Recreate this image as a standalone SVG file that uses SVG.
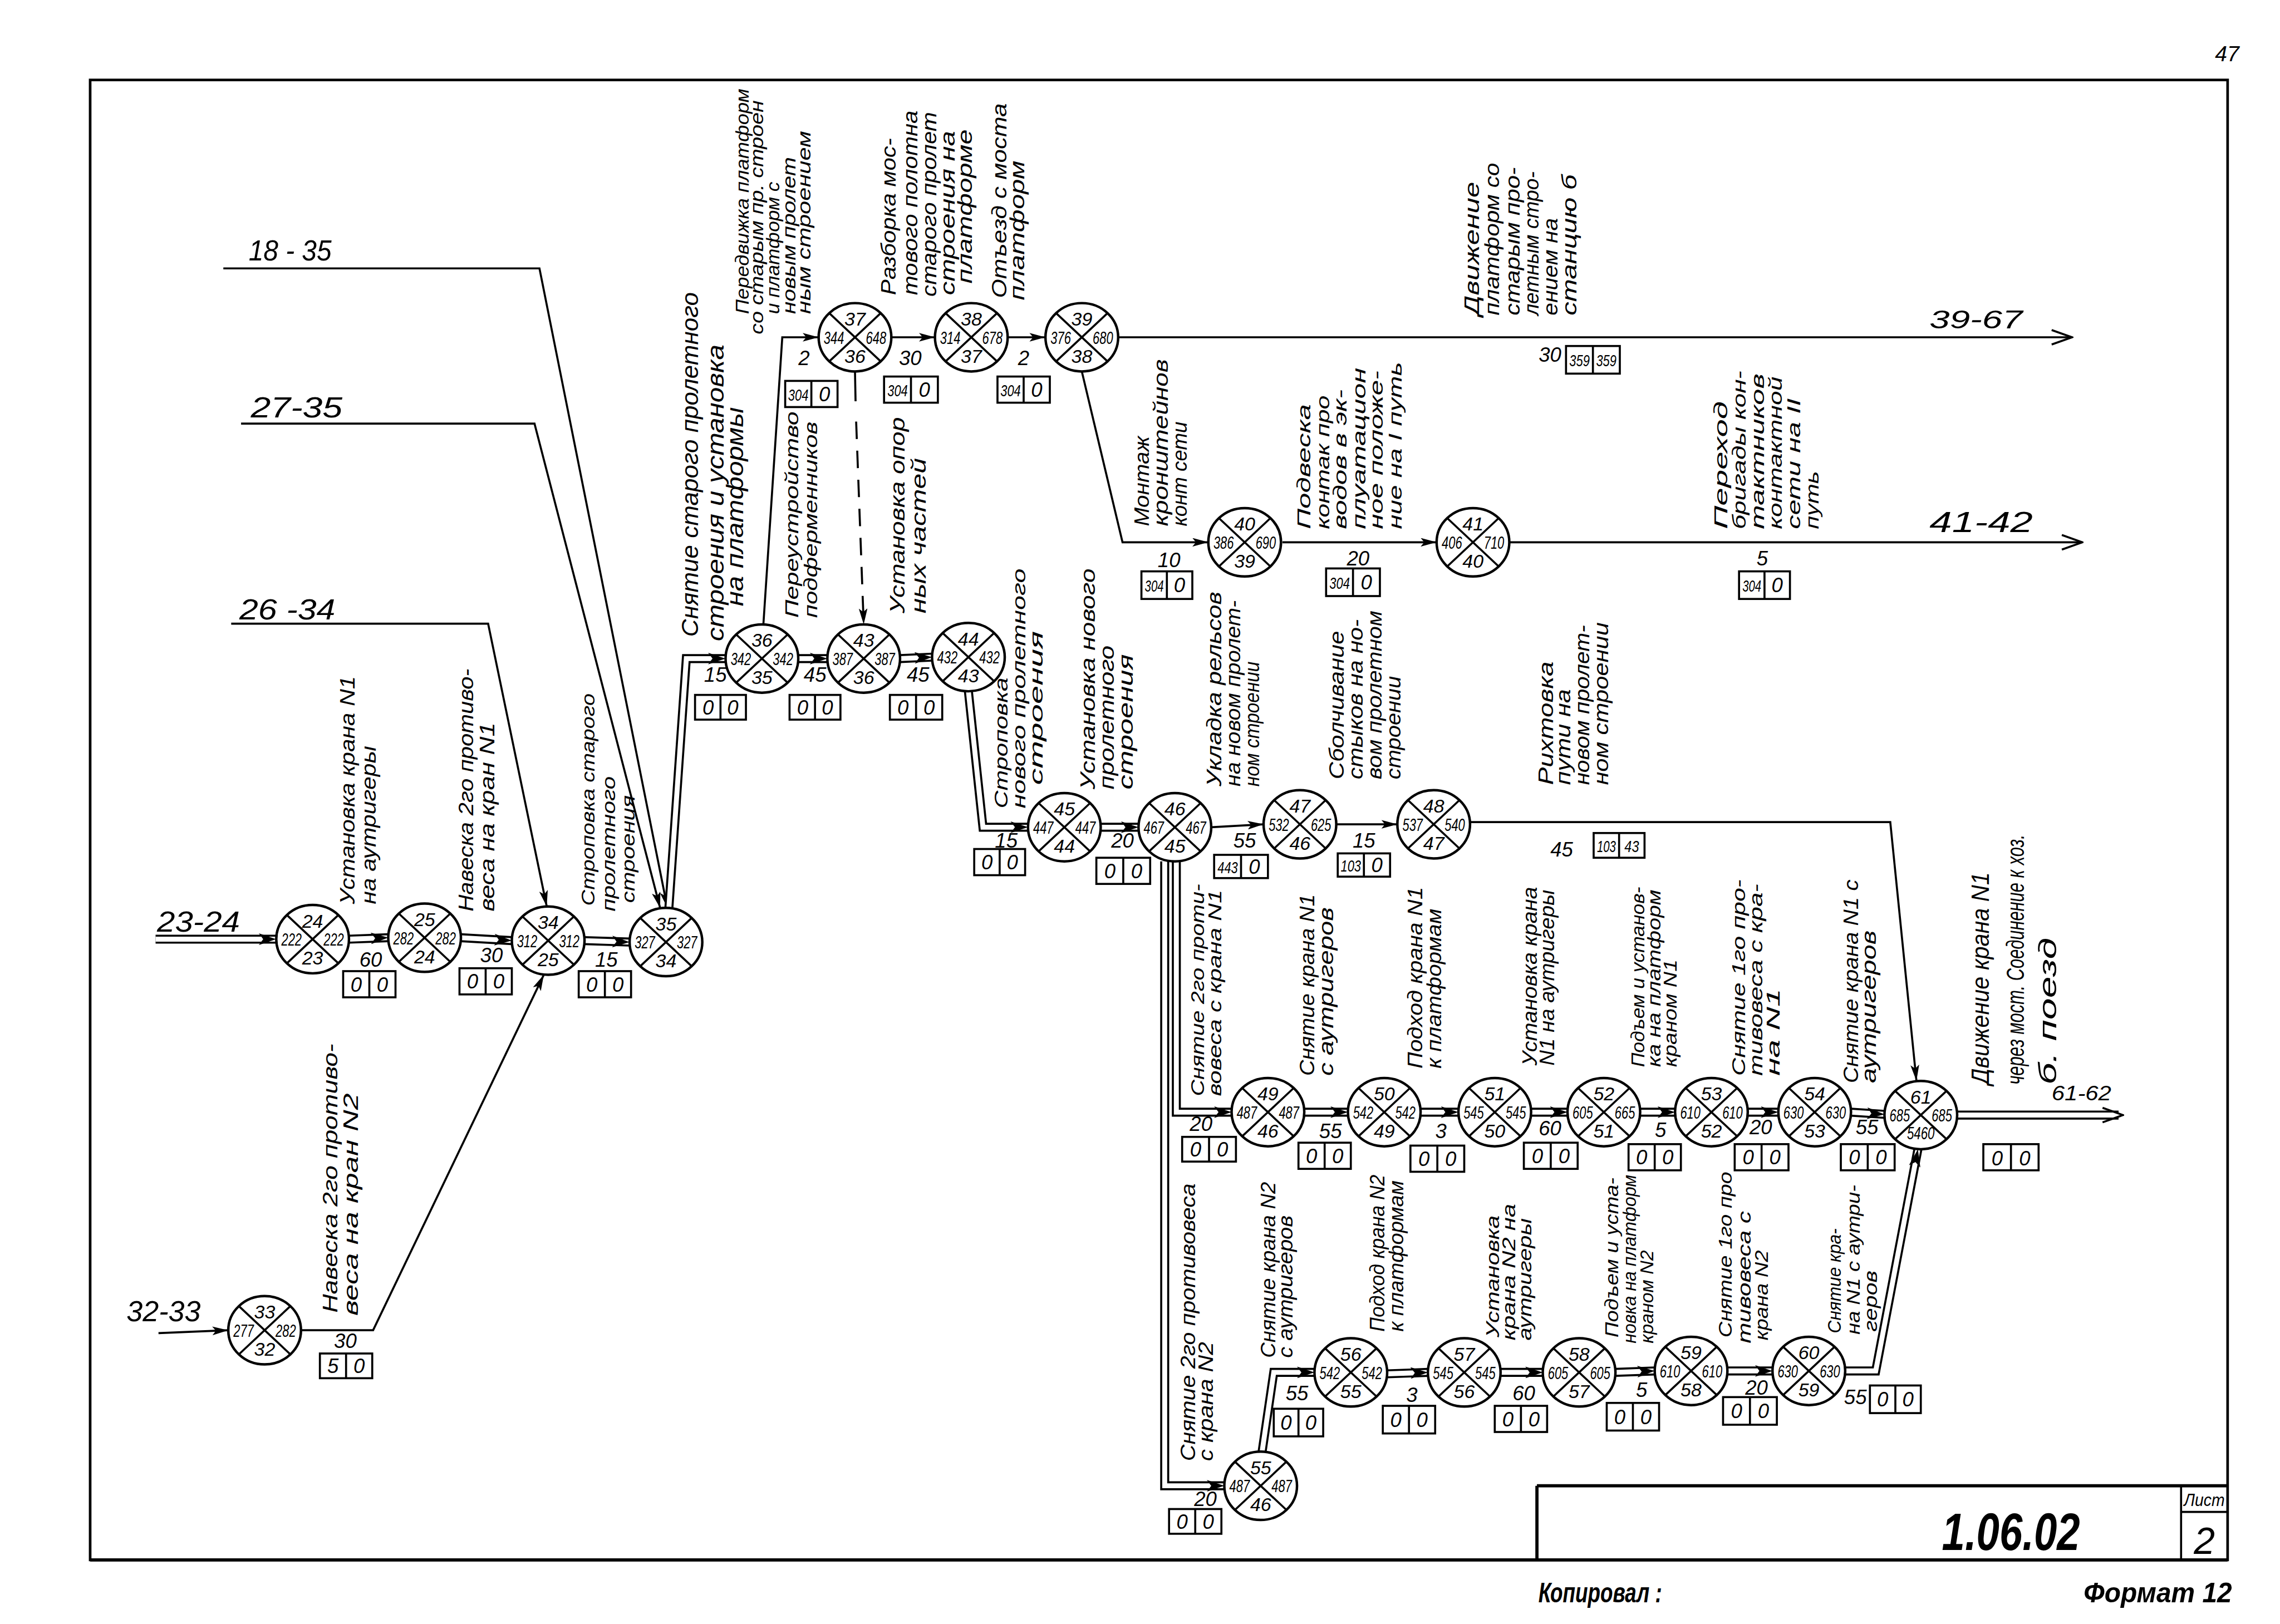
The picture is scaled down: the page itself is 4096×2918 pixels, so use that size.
<svg xmlns="http://www.w3.org/2000/svg" width="4096" height="2918" viewBox="0 0 4096 2918">
<defs>
<style>
text{font-family:"Liberation Sans","DejaVu Sans",sans-serif;font-style:italic;fill:#000}
.nt{font-size:13px;text-anchor:middle}
.ns{font-size:12px;text-anchor:middle}
.ln{fill:none;stroke:#000;stroke-width:1.4}
.db{fill:none;stroke:#000;stroke-width:6.2}
.dw{fill:none;stroke:#fff;stroke-width:3.4}
.ma{fill:none;stroke:none;marker-end:url(#b)}
.mo{fill:none;stroke:none;marker-end:url(#o)}
.dash{fill:none;stroke:#000;stroke-width:1.4;stroke-dasharray:12 8}
.el{font-size:14px;text-anchor:middle}
.bx rect,.bx path{fill:none;stroke:#000;stroke-width:1.4}
.bx text{font-size:14px;text-anchor:middle}
.bx .s{font-size:11px}
.io{font-size:20px}
.rl text{font-size:14px}
.r13 text{font-size:13px}
.r16 text{font-size:16px}
.r17 text{font-size:17px}
</style>
<marker id="a" viewBox="0 0 11 6" refX="11" refY="3" markerWidth="11" markerHeight="6" markerUnits="userSpaceOnUse" orient="auto"><path d="M0,0L11,3L0,6L2.5,3z" fill="#000"/></marker>
<marker id="b" viewBox="0 0 12 8" refX="12" refY="4" markerWidth="12" markerHeight="8" markerUnits="userSpaceOnUse" orient="auto"><path d="M0,0L12,4L0,8L3,4z" fill="#000"/></marker>
<marker id="o" viewBox="-1 -1 16 12" refX="14" refY="5" markerWidth="16" markerHeight="12" markerUnits="userSpaceOnUse" orient="auto"><path d="M0,0L14,5L0,10" fill="none" stroke="#000" stroke-width="1.4"/></marker>
<g id="ring"><ellipse rx="25" ry="23.5" fill="#fff" stroke="#000" stroke-width="1.7"/><path d="M-17.7,-16.6L17.7,16.6M17.7,-16.6L-17.7,16.6" stroke="#000" stroke-width="1.4" fill="none"/></g>
</defs>
<rect width="4096" height="2918" fill="#fff"/>
<g transform="scale(2.6122)">
<g id="frame">
<rect x="62" y="55" width="1470" height="1018" fill="none" stroke="#000" stroke-width="1.8"/>
<path d="M1057,1022H1532M1057,1022V1073M62,1073H1532" fill="none" stroke="#000" stroke-width="2.2"/>
<path d="M1500,1022V1073M1500,1040H1532" fill="none" stroke="#000" stroke-width="1.4"/>
<text x="1540" y="42" font-size="15" text-anchor="end">47</text>
<text x="1383" y="1066" font-size="36" font-weight="bold" text-anchor="middle" textLength="95" lengthAdjust="spacingAndGlyphs">1.06.02</text>
<text x="1516" y="1036" font-size="12" text-anchor="middle" textLength="28" lengthAdjust="spacingAndGlyphs">Лист</text>
<text x="1516" y="1069" font-size="26" text-anchor="middle">2</text>
<text x="1058" y="1102" font-size="19" font-weight="bold" textLength="85" lengthAdjust="spacingAndGlyphs">Копировал :</text>
<text x="1535" y="1102" font-size="19" font-weight="bold" text-anchor="end" textLength="102" lengthAdjust="spacingAndGlyphs">Формат 12</text>
</g>
<g id="connectors">
<path class="ln" marker-end="url(#a)" d="M109,917L157,915"/>
<path class="ln" marker-end="url(#a)" d="M207.5,915H256.6L374,670.5"/>
<path class="ln" marker-end="url(#a)" d="M159,429H335.7L376,623.5"/>
<path class="ln" marker-end="url(#a)" d="M165.8,291.4H367.6L454,624.6"/>
<path class="ln" marker-end="url(#a)" d="M153.6,184.6H371L459,624.5"/>
<path class="ln" marker-end="url(#a)" d="M525,429.5L538,232H563"/>
<path class="ln" marker-end="url(#a)" d="M613,232H643"/>
<path class="ln" marker-end="url(#a)" d="M693,232H719"/>
<path class="ln" d="M588,255.5L588.4,276"/>
<path class="dash" marker-end="url(#a)" d="M588.8,290L594,429.5"/>
<path class="ln" marker-end="url(#a)" d="M744,255.5L772,373H831"/>
<path class="ln" marker-end="url(#a)" d="M882,373H988"/>
<path class="ln" marker-end="url(#o)" d="M1038,373H1432"/>
<path class="ln" marker-end="url(#o)" d="M769,232H1425"/>
<path class="ln" marker-end="url(#a)" d="M833,569L869,567"/>
<path class="ln" marker-end="url(#a)" d="M919,567H961"/>
<path class="ln" marker-end="url(#a)" d="M1011,565.5H1300L1318,743.5"/>
<g id="double-black">
<path class="db" d="M107,646H190"/>
<path class="db" d="M240,646L267,645"/>
<path class="db" d="M317,645L352,647"/>
<path class="db" d="M402,647L433,648"/>
<path class="db" d="M460,624.6L472,453H499"/>
<path class="db" d="M549,453H569"/>
<path class="db" d="M619,453L641,452"/>
<path class="db" d="M666,475.5L676,569H707"/>
<path class="db" d="M757,569H783"/>
<path class="db" d="M801,592.5V1022H842"/>
<path class="db" d="M809,592.5V765H847"/>
<path class="db" d="M897,765H927"/>
<path class="db" d="M977,765H1003"/>
<path class="db" d="M1053,765H1078"/>
<path class="db" d="M1128,765H1152"/>
<path class="db" d="M1202,765H1223"/>
<path class="db" d="M1273,765L1296,766.5"/>
<path class="db" d="M1346,767H1457"/>
<path class="db" d="M868,998.5L876,944H904"/>
<path class="db" d="M954,945L982,944"/>
<path class="db" d="M1032,944H1061"/>
<path class="db" d="M1111,944L1138,943"/>
<path class="db" d="M1188,943H1219"/>
<path class="db" d="M1269,943H1290L1319,790.5"/>
</g>
<g id="double-white">
<path class="dw" d="M107,646H190"/>
<path class="dw" d="M240,646L267,645"/>
<path class="dw" d="M317,645L352,647"/>
<path class="dw" d="M402,647L433,648"/>
<path class="dw" d="M460,624.6L472,453H499"/>
<path class="dw" d="M549,453H569"/>
<path class="dw" d="M619,453L641,452"/>
<path class="dw" d="M666,475.5L676,569H707"/>
<path class="dw" d="M757,569H783"/>
<path class="dw" d="M801,592.5V1022H842"/>
<path class="dw" d="M809,592.5V765H847"/>
<path class="dw" d="M897,765H927"/>
<path class="dw" d="M977,765H1003"/>
<path class="dw" d="M1053,765H1078"/>
<path class="dw" d="M1128,765H1152"/>
<path class="dw" d="M1202,765H1223"/>
<path class="dw" d="M1273,765L1296,766.5"/>
<path class="dw" d="M1346,767H1457"/>
<path class="dw" d="M868,998.5L876,944H904"/>
<path class="dw" d="M954,945L982,944"/>
<path class="dw" d="M1032,944H1061"/>
<path class="dw" d="M1111,944L1138,943"/>
<path class="dw" d="M1188,943H1219"/>
<path class="dw" d="M1269,943H1290L1319,790.5"/>
</g>
<g id="double-heads">
<path class="ma" d="M107,646H190"/>
<path class="ma" d="M240,646L267,645"/>
<path class="ma" d="M317,645L352,647"/>
<path class="ma" d="M402,647L433,648"/>
<path class="ma" d="M472,453H499"/>
<path class="ma" d="M549,453H569"/>
<path class="ma" d="M619,453L641,452"/>
<path class="ma" d="M676,569H707"/>
<path class="ma" d="M757,569H783"/>
<path class="ma" d="M801,1022H842"/>
<path class="ma" d="M809,765H847"/>
<path class="ma" d="M897,765H927"/>
<path class="ma" d="M977,765H1003"/>
<path class="ma" d="M1053,765H1078"/>
<path class="ma" d="M1128,765H1152"/>
<path class="ma" d="M1202,765H1223"/>
<path class="ma" d="M1273,765L1296,766.5"/>
<path class="mo" d="M1346,767H1460"/>
<path class="ma" d="M876,944H904"/>
<path class="ma" d="M954,945L982,944"/>
<path class="ma" d="M1032,944H1061"/>
<path class="ma" d="M1111,944L1138,943"/>
<path class="ma" d="M1188,943H1219"/>
<path class="ma" d="M1290,943L1319,790.5"/>
</g>
</g>
<g id="nodes">
<g id="n24" transform="translate(215,646)"><use href="#ring"/><text class="nt" y="-8">24</text><text class="nt" y="17.5">23</text><text class="ns" x="-14.5" y="4.5" textLength="14" lengthAdjust="spacingAndGlyphs">222</text><text class="ns" x="14.5" y="4.5" textLength="14" lengthAdjust="spacingAndGlyphs">222</text></g>
<g id="n25" transform="translate(292,645)"><use href="#ring"/><text class="nt" y="-8">25</text><text class="nt" y="17.5">24</text><text class="ns" x="-14.5" y="4.5" textLength="14" lengthAdjust="spacingAndGlyphs">282</text><text class="ns" x="14.5" y="4.5" textLength="14" lengthAdjust="spacingAndGlyphs">282</text></g>
<g id="n34" transform="translate(377,647)"><use href="#ring"/><text class="nt" y="-8">34</text><text class="nt" y="17.5">25</text><text class="ns" x="-14.5" y="4.5" textLength="14" lengthAdjust="spacingAndGlyphs">312</text><text class="ns" x="14.5" y="4.5" textLength="14" lengthAdjust="spacingAndGlyphs">312</text></g>
<g id="n35" transform="translate(458,648)"><use href="#ring"/><text class="nt" y="-8">35</text><text class="nt" y="17.5">34</text><text class="ns" x="-14.5" y="4.5" textLength="14" lengthAdjust="spacingAndGlyphs">327</text><text class="ns" x="14.5" y="4.5" textLength="14" lengthAdjust="spacingAndGlyphs">327</text></g>
<g id="n33" transform="translate(182,915)"><use href="#ring"/><text class="nt" y="-8">33</text><text class="nt" y="17.5">32</text><text class="ns" x="-14.5" y="4.5" textLength="14" lengthAdjust="spacingAndGlyphs">277</text><text class="ns" x="14.5" y="4.5" textLength="14" lengthAdjust="spacingAndGlyphs">282</text></g>
<g id="n36" transform="translate(524,453)"><use href="#ring"/><text class="nt" y="-8">36</text><text class="nt" y="17.5">35</text><text class="ns" x="-14.5" y="4.5" textLength="14" lengthAdjust="spacingAndGlyphs">342</text><text class="ns" x="14.5" y="4.5" textLength="14" lengthAdjust="spacingAndGlyphs">342</text></g>
<g id="n43" transform="translate(594,453)"><use href="#ring"/><text class="nt" y="-8">43</text><text class="nt" y="17.5">36</text><text class="ns" x="-14.5" y="4.5" textLength="14" lengthAdjust="spacingAndGlyphs">387</text><text class="ns" x="14.5" y="4.5" textLength="14" lengthAdjust="spacingAndGlyphs">387</text></g>
<g id="n44" transform="translate(666,452)"><use href="#ring"/><text class="nt" y="-8">44</text><text class="nt" y="17.5">43</text><text class="ns" x="-14.5" y="4.5" textLength="14" lengthAdjust="spacingAndGlyphs">432</text><text class="ns" x="14.5" y="4.5" textLength="14" lengthAdjust="spacingAndGlyphs">432</text></g>
<g id="n37" transform="translate(588,232)"><use href="#ring"/><text class="nt" y="-8">37</text><text class="nt" y="17.5">36</text><text class="ns" x="-14.5" y="4.5" textLength="14" lengthAdjust="spacingAndGlyphs">344</text><text class="ns" x="14.5" y="4.5" textLength="14" lengthAdjust="spacingAndGlyphs">648</text></g>
<g id="n38" transform="translate(668,232)"><use href="#ring"/><text class="nt" y="-8">38</text><text class="nt" y="17.5">37</text><text class="ns" x="-14.5" y="4.5" textLength="14" lengthAdjust="spacingAndGlyphs">314</text><text class="ns" x="14.5" y="4.5" textLength="14" lengthAdjust="spacingAndGlyphs">678</text></g>
<g id="n39" transform="translate(744,232)"><use href="#ring"/><text class="nt" y="-8">39</text><text class="nt" y="17.5">38</text><text class="ns" x="-14.5" y="4.5" textLength="14" lengthAdjust="spacingAndGlyphs">376</text><text class="ns" x="14.5" y="4.5" textLength="14" lengthAdjust="spacingAndGlyphs">680</text></g>
<g id="n40" transform="translate(856,373)"><use href="#ring"/><text class="nt" y="-8">40</text><text class="nt" y="17.5">39</text><text class="ns" x="-14.5" y="4.5" textLength="14" lengthAdjust="spacingAndGlyphs">386</text><text class="ns" x="14.5" y="4.5" textLength="14" lengthAdjust="spacingAndGlyphs">690</text></g>
<g id="n41" transform="translate(1013,373)"><use href="#ring"/><text class="nt" y="-8">41</text><text class="nt" y="17.5">40</text><text class="ns" x="-14.5" y="4.5" textLength="14" lengthAdjust="spacingAndGlyphs">406</text><text class="ns" x="14.5" y="4.5" textLength="14" lengthAdjust="spacingAndGlyphs">710</text></g>
<g id="n45" transform="translate(732,569)"><use href="#ring"/><text class="nt" y="-8">45</text><text class="nt" y="17.5">44</text><text class="ns" x="-14.5" y="4.5" textLength="14" lengthAdjust="spacingAndGlyphs">447</text><text class="ns" x="14.5" y="4.5" textLength="14" lengthAdjust="spacingAndGlyphs">447</text></g>
<g id="n46" transform="translate(808,569)"><use href="#ring"/><text class="nt" y="-8">46</text><text class="nt" y="17.5">45</text><text class="ns" x="-14.5" y="4.5" textLength="14" lengthAdjust="spacingAndGlyphs">467</text><text class="ns" x="14.5" y="4.5" textLength="14" lengthAdjust="spacingAndGlyphs">467</text></g>
<g id="n47" transform="translate(894,567)"><use href="#ring"/><text class="nt" y="-8">47</text><text class="nt" y="17.5">46</text><text class="ns" x="-14.5" y="4.5" textLength="14" lengthAdjust="spacingAndGlyphs">532</text><text class="ns" x="14.5" y="4.5" textLength="14" lengthAdjust="spacingAndGlyphs">625</text></g>
<g id="n48" transform="translate(986,567)"><use href="#ring"/><text class="nt" y="-8">48</text><text class="nt" y="17.5">47</text><text class="ns" x="-14.5" y="4.5" textLength="14" lengthAdjust="spacingAndGlyphs">537</text><text class="ns" x="14.5" y="4.5" textLength="14" lengthAdjust="spacingAndGlyphs">540</text></g>
<g id="n49" transform="translate(872,765)"><use href="#ring"/><text class="nt" y="-8">49</text><text class="nt" y="17.5">46</text><text class="ns" x="-14.5" y="4.5" textLength="14" lengthAdjust="spacingAndGlyphs">487</text><text class="ns" x="14.5" y="4.5" textLength="14" lengthAdjust="spacingAndGlyphs">487</text></g>
<g id="n50" transform="translate(952,765)"><use href="#ring"/><text class="nt" y="-8">50</text><text class="nt" y="17.5">49</text><text class="ns" x="-14.5" y="4.5" textLength="14" lengthAdjust="spacingAndGlyphs">542</text><text class="ns" x="14.5" y="4.5" textLength="14" lengthAdjust="spacingAndGlyphs">542</text></g>
<g id="n51" transform="translate(1028,765)"><use href="#ring"/><text class="nt" y="-8">51</text><text class="nt" y="17.5">50</text><text class="ns" x="-14.5" y="4.5" textLength="14" lengthAdjust="spacingAndGlyphs">545</text><text class="ns" x="14.5" y="4.5" textLength="14" lengthAdjust="spacingAndGlyphs">545</text></g>
<g id="n52" transform="translate(1103,765)"><use href="#ring"/><text class="nt" y="-8">52</text><text class="nt" y="17.5">51</text><text class="ns" x="-14.5" y="4.5" textLength="14" lengthAdjust="spacingAndGlyphs">605</text><text class="ns" x="14.5" y="4.5" textLength="14" lengthAdjust="spacingAndGlyphs">665</text></g>
<g id="n53" transform="translate(1177,765)"><use href="#ring"/><text class="nt" y="-8">53</text><text class="nt" y="17.5">52</text><text class="ns" x="-14.5" y="4.5" textLength="14" lengthAdjust="spacingAndGlyphs">610</text><text class="ns" x="14.5" y="4.5" textLength="14" lengthAdjust="spacingAndGlyphs">610</text></g>
<g id="n54" transform="translate(1248,765)"><use href="#ring"/><text class="nt" y="-8">54</text><text class="nt" y="17.5">53</text><text class="ns" x="-14.5" y="4.5" textLength="14" lengthAdjust="spacingAndGlyphs">630</text><text class="ns" x="14.5" y="4.5" textLength="14" lengthAdjust="spacingAndGlyphs">630</text></g>
<g id="n61" transform="translate(1321,767)"><use href="#ring"/><text class="nt" y="-8">61</text><text class="ns" y="16.5" textLength="19" lengthAdjust="spacingAndGlyphs">5460</text><text class="ns" x="-14.5" y="4.5" textLength="14" lengthAdjust="spacingAndGlyphs">685</text><text class="ns" x="14.5" y="4.5" textLength="14" lengthAdjust="spacingAndGlyphs">685</text></g>
<g id="n55" transform="translate(867,1022)"><use href="#ring"/><text class="nt" y="-8">55</text><text class="nt" y="17.5">46</text><text class="ns" x="-14.5" y="4.5" textLength="14" lengthAdjust="spacingAndGlyphs">487</text><text class="ns" x="14.5" y="4.5" textLength="14" lengthAdjust="spacingAndGlyphs">487</text></g>
<g id="n56" transform="translate(929,944)"><use href="#ring"/><text class="nt" y="-8">56</text><text class="nt" y="17.5">55</text><text class="ns" x="-14.5" y="4.5" textLength="14" lengthAdjust="spacingAndGlyphs">542</text><text class="ns" x="14.5" y="4.5" textLength="14" lengthAdjust="spacingAndGlyphs">542</text></g>
<g id="n57" transform="translate(1007,944)"><use href="#ring"/><text class="nt" y="-8">57</text><text class="nt" y="17.5">56</text><text class="ns" x="-14.5" y="4.5" textLength="14" lengthAdjust="spacingAndGlyphs">545</text><text class="ns" x="14.5" y="4.5" textLength="14" lengthAdjust="spacingAndGlyphs">545</text></g>
<g id="n58" transform="translate(1086,944)"><use href="#ring"/><text class="nt" y="-8">58</text><text class="nt" y="17.5">57</text><text class="ns" x="-14.5" y="4.5" textLength="14" lengthAdjust="spacingAndGlyphs">605</text><text class="ns" x="14.5" y="4.5" textLength="14" lengthAdjust="spacingAndGlyphs">605</text></g>
<g id="n59" transform="translate(1163,943)"><use href="#ring"/><text class="nt" y="-8">59</text><text class="nt" y="17.5">58</text><text class="ns" x="-14.5" y="4.5" textLength="14" lengthAdjust="spacingAndGlyphs">610</text><text class="ns" x="14.5" y="4.5" textLength="14" lengthAdjust="spacingAndGlyphs">610</text></g>
<g id="n60" transform="translate(1244,943)"><use href="#ring"/><text class="nt" y="-8">60</text><text class="nt" y="17.5">59</text><text class="ns" x="-14.5" y="4.5" textLength="14" lengthAdjust="spacingAndGlyphs">630</text><text class="ns" x="14.5" y="4.5" textLength="14" lengthAdjust="spacingAndGlyphs">630</text></g>
</g>
<g id="io-labels">
<text class="io" x="108" y="641" textLength="57" lengthAdjust="spacingAndGlyphs">23-24</text>
<text class="io" x="171" y="179" textLength="57" lengthAdjust="spacingAndGlyphs">18 - 35</text>
<text class="io" x="172.5" y="287" textLength="63" lengthAdjust="spacingAndGlyphs">27-35</text>
<text class="io" x="164.6" y="426" textLength="66" lengthAdjust="spacingAndGlyphs">26 -34</text>
<text class="io" x="87" y="909" textLength="51" lengthAdjust="spacingAndGlyphs">32-33</text>
<text x="1327" y="226" font-size="18" textLength="64" lengthAdjust="spacingAndGlyphs">39-67</text>
<text class="io" x="1327" y="366" textLength="71" lengthAdjust="spacingAndGlyphs">41-42</text>
<text x="1411" y="757" font-size="14" textLength="41" lengthAdjust="spacingAndGlyphs">61-62</text>
</g>
<g id="edge-labels">
<text class="el" x="255" y="665">60</text>
<text class="el" x="338" y="662">30</text>
<text class="el" x="417" y="665">15</text>
<text class="el" x="492" y="469">15</text>
<text class="el" x="560.5" y="469">45</text>
<text class="el" x="631.4" y="469">45</text>
<text class="el" x="553" y="251">2</text>
<text class="el" x="626" y="251">30</text>
<text class="el" x="704" y="251">2</text>
<text class="el" x="1066" y="249">30</text>
<text class="el" x="804" y="390">10</text>
<text class="el" x="934" y="389">20</text>
<text class="el" x="1212" y="389">5</text>
<text class="el" x="692" y="583">15</text>
<text class="el" x="772" y="583">20</text>
<text class="el" x="856" y="583">55</text>
<text class="el" x="938" y="583">15</text>
<text class="el" x="1074" y="589">45</text>
<text class="el" x="237.5" y="927">30</text>
<text class="el" x="826" y="778">20</text>
<text class="el" x="915" y="783">55</text>
<text class="el" x="991" y="783">3</text>
<text class="el" x="1066" y="781">60</text>
<text class="el" x="1142" y="782">5</text>
<text class="el" x="1211" y="780">20</text>
<text class="el" x="1284" y="780">55</text>
<text class="el" x="892" y="963">55</text>
<text class="el" x="971" y="964.5">3</text>
<text class="el" x="1048" y="963">60</text>
<text class="el" x="1129" y="961">5</text>
<text class="el" x="1208" y="959.5">20</text>
<text class="el" x="1276" y="966">55</text>
<text class="el" x="829" y="1036">20</text>
</g>
<g id="boxes">
<g class="bx" transform="translate(236,668)"><rect width="36" height="18"/><path d="M18,0V18"/><text x="9" y="14">0</text><text x="27" y="14">0</text></g>
<g class="bx" transform="translate(316,666)"><rect width="36" height="18"/><path d="M18,0V18"/><text x="9" y="14">0</text><text x="27" y="14">0</text></g>
<g class="bx" transform="translate(398,668)"><rect width="36" height="18"/><path d="M18,0V18"/><text x="9" y="14">0</text><text x="27" y="14">0</text></g>
<g class="bx" transform="translate(478,478)"><rect width="35" height="17"/><path d="M17.5,0V17"/><text x="9" y="13.5">0</text><text x="26" y="13.5">0</text></g>
<g class="bx" transform="translate(543,478)"><rect width="35" height="17"/><path d="M17.5,0V17"/><text x="9" y="13.5">0</text><text x="26" y="13.5">0</text></g>
<g class="bx" transform="translate(612,478)"><rect width="36" height="17"/><path d="M18,0V17"/><text x="9" y="13.5">0</text><text x="27" y="13.5">0</text></g>
<g class="bx" transform="translate(540,262)"><rect width="36" height="18"/><path d="M18,0V18"/><text class="s" x="9" y="13.5" textLength="14" lengthAdjust="spacingAndGlyphs">304</text><text x="27" y="14">0</text></g>
<g class="bx" transform="translate(608,259)"><rect width="37" height="18"/><path d="M18.5,0V18"/><text class="s" x="9.3" y="13.5" textLength="14" lengthAdjust="spacingAndGlyphs">304</text><text x="27.7" y="14">0</text></g>
<g class="bx" transform="translate(686,259)"><rect width="36" height="18"/><path d="M18,0V18"/><text class="s" x="9" y="13.5" textLength="14" lengthAdjust="spacingAndGlyphs">304</text><text x="27" y="14">0</text></g>
<g class="bx" transform="translate(1077,238)"><rect width="37" height="19"/><path d="M18.5,0V19"/><text class="s" x="9.3" y="14" textLength="14" lengthAdjust="spacingAndGlyphs">359</text><text class="s" x="27.7" y="14" textLength="14" lengthAdjust="spacingAndGlyphs">359</text></g>
<g class="bx" transform="translate(785,393)"><rect width="35" height="19"/><path d="M17.5,0V19"/><text class="s" x="8.8" y="14" textLength="13" lengthAdjust="spacingAndGlyphs">304</text><text x="26.2" y="14.5">0</text></g>
<g class="bx" transform="translate(912,391)"><rect width="37" height="19"/><path d="M18.5,0V19"/><text class="s" x="9.3" y="14" textLength="14" lengthAdjust="spacingAndGlyphs">304</text><text x="27.7" y="14.5">0</text></g>
<g class="bx" transform="translate(1196,393)"><rect width="35" height="19"/><path d="M17.5,0V19"/><text class="s" x="8.8" y="14" textLength="13" lengthAdjust="spacingAndGlyphs">304</text><text x="26.2" y="14.5">0</text></g>
<g class="bx" transform="translate(670,584)"><rect width="35" height="18"/><path d="M17.5,0V18"/><text x="8.8" y="14">0</text><text x="26.2" y="14">0</text></g>
<g class="bx" transform="translate(754,590)"><rect width="37" height="18"/><path d="M18.5,0V18"/><text x="9.3" y="14">0</text><text x="27.7" y="14">0</text></g>
<g class="bx" transform="translate(835,588)"><rect width="37" height="16"/><path d="M18.5,0V16"/><text class="s" x="9.3" y="12.5" textLength="14" lengthAdjust="spacingAndGlyphs">443</text><text x="27.7" y="13">0</text></g>
<g class="bx" transform="translate(920,587)"><rect width="36" height="16"/><path d="M18,0V16"/><text class="s" x="9" y="12.5" textLength="14" lengthAdjust="spacingAndGlyphs">103</text><text x="27" y="13">0</text></g>
<g class="bx" transform="translate(1096,573)"><rect width="35" height="17"/><path d="M17.5,0V17"/><text class="s" x="8.8" y="13" textLength="13" lengthAdjust="spacingAndGlyphs">103</text><text class="s" x="26.2" y="13" textLength="10" lengthAdjust="spacingAndGlyphs">43</text></g>
<g class="bx" transform="translate(220,931)"><rect width="36" height="17"/><path d="M18,0V17"/><text x="9" y="13.5">5</text><text x="27" y="13.5">0</text></g>
<g class="bx" transform="translate(813,782)"><rect width="37" height="17"/><path d="M18.5,0V17"/><text x="9.3" y="13.5">0</text><text x="27.7" y="13.5">0</text></g>
<g class="bx" transform="translate(893,786)"><rect width="36" height="18"/><path d="M18,0V18"/><text x="9" y="14">0</text><text x="27" y="14">0</text></g>
<g class="bx" transform="translate(970,788)"><rect width="37" height="18"/><path d="M18.5,0V18"/><text x="9.3" y="14">0</text><text x="27.7" y="14">0</text></g>
<g class="bx" transform="translate(1048,786)"><rect width="37" height="18"/><path d="M18.5,0V18"/><text x="9.3" y="14">0</text><text x="27.7" y="14">0</text></g>
<g class="bx" transform="translate(1120,787)"><rect width="36" height="18"/><path d="M18,0V18"/><text x="9" y="14">0</text><text x="27" y="14">0</text></g>
<g class="bx" transform="translate(1193,787)"><rect width="37" height="18"/><path d="M18.5,0V18"/><text x="9.3" y="14">0</text><text x="27.7" y="14">0</text></g>
<g class="bx" transform="translate(1266,787)"><rect width="37" height="18"/><path d="M18.5,0V18"/><text x="9.3" y="14">0</text><text x="27.7" y="14">0</text></g>
<g class="bx" transform="translate(1364,787)"><rect width="38" height="18"/><path d="M19,0V18"/><text x="9.5" y="14.5" font-size="15">0</text><text x="28.5" y="14.5" font-size="15">0</text></g>
<g class="bx" transform="translate(876,969)"><rect width="34" height="19"/><path d="M17,0V19"/><text x="8.5" y="14.5">0</text><text x="25.5" y="14.5">0</text></g>
<g class="bx" transform="translate(951,967)"><rect width="36" height="19"/><path d="M18,0V19"/><text x="9" y="14.5">0</text><text x="27" y="14.5">0</text></g>
<g class="bx" transform="translate(1028,967)"><rect width="36" height="18"/><path d="M18,0V18"/><text x="9" y="14">0</text><text x="27" y="14">0</text></g>
<g class="bx" transform="translate(1105,965)"><rect width="36" height="19"/><path d="M18,0V19"/><text x="9" y="14.5">0</text><text x="27" y="14.5">0</text></g>
<g class="bx" transform="translate(1185,961)"><rect width="37" height="19"/><path d="M18.5,0V19"/><text x="9.3" y="14.5">0</text><text x="27.7" y="14.5">0</text></g>
<g class="bx" transform="translate(1286,953)"><rect width="35" height="19"/><path d="M17.5,0V19"/><text x="8.8" y="14.5">0</text><text x="26.2" y="14.5">0</text></g>
<g class="bx" transform="translate(804,1038)"><rect width="36" height="17"/><path d="M18,0V17"/><text x="9" y="13.5">0</text><text x="27" y="13.5">0</text></g>
</g>
<g id="activity-labels">
<g class="rl" transform="translate(244,622) rotate(-90)"><text textLength="157" lengthAdjust="spacingAndGlyphs">Установка крана N1</text><text y="14.5" textLength="109" lengthAdjust="spacingAndGlyphs">на аутригеры</text></g>
<g class="rl" transform="translate(325.5,627) rotate(-90)"><text textLength="167" lengthAdjust="spacingAndGlyphs">Навеска 2го противо-</text><text y="14.5" textLength="130" lengthAdjust="spacingAndGlyphs">веса на кран N1</text></g>
<g class="r13" transform="translate(409,623) rotate(-90)"><text textLength="146" lengthAdjust="spacingAndGlyphs">Строповка старого</text><text x="-4" y="14" textLength="93" lengthAdjust="spacingAndGlyphs">пролетного</text><text x="2" y="27.5" textLength="74" lengthAdjust="spacingAndGlyphs">строения</text></g>
<g class="r16" transform="translate(480,438) rotate(-90)"><text textLength="237" lengthAdjust="spacingAndGlyphs">Снятие старого пролетного</text><text x="-3" y="17.5" textLength="204" lengthAdjust="spacingAndGlyphs">строения и установка</text><text x="21" y="31" textLength="137" lengthAdjust="spacingAndGlyphs">на платформы</text></g>
<g class="r13" transform="translate(515,216) rotate(-90)"><text textLength="155" lengthAdjust="spacingAndGlyphs">Передвижка платформ</text><text x="-14" y="10" textLength="161" lengthAdjust="spacingAndGlyphs">со старым пр. строен</text><text y="21" textLength="91" lengthAdjust="spacingAndGlyphs">и платформ с</text><text y="32" textLength="108" lengthAdjust="spacingAndGlyphs">новым пролет</text><text y="42.5" textLength="126" lengthAdjust="spacingAndGlyphs">ным строением</text></g>
<g class="rl" transform="translate(616,203) rotate(-90)"><text textLength="108" lengthAdjust="spacingAndGlyphs">Разборка мос-</text><text y="15" textLength="127" lengthAdjust="spacingAndGlyphs">тового полотна</text><text x="-1" y="28" textLength="127" lengthAdjust="spacingAndGlyphs">старого пролет</text><text y="40.5" textLength="113" lengthAdjust="spacingAndGlyphs">строения на</text><text x="8" y="52.5" textLength="106" lengthAdjust="spacingAndGlyphs">платформе</text></g>
<g class="rl" transform="translate(692,205) rotate(-90)"><text textLength="134" lengthAdjust="spacingAndGlyphs">Отъезд с моста</text><text x="-1.5" y="12.5" textLength="96" lengthAdjust="spacingAndGlyphs">платформ</text></g>
<g class="r13" transform="translate(549,425) rotate(-90)"><text textLength="142" lengthAdjust="spacingAndGlyphs">Переустройство</text><text y="13" textLength="135" lengthAdjust="spacingAndGlyphs">подферменников</text></g>
<g class="rl" transform="translate(622,422) rotate(-90)"><text textLength="135" lengthAdjust="spacingAndGlyphs">Установка опор</text><text y="14.5" textLength="107" lengthAdjust="spacingAndGlyphs">ных частей</text></g>
<g class="r13" transform="translate(693,556) rotate(-90)"><text textLength="90" lengthAdjust="spacingAndGlyphs">Строповка</text><text y="12" textLength="165" lengthAdjust="spacingAndGlyphs">нового пролетного</text><text x="16" y="24" textLength="106" lengthAdjust="spacingAndGlyphs">строения</text></g>
<g class="rl" transform="translate(753,543) rotate(-90)"><text textLength="152" lengthAdjust="spacingAndGlyphs">Установка нового</text><text y="13" textLength="99" lengthAdjust="spacingAndGlyphs">пролетного</text><text y="26" textLength="93" lengthAdjust="spacingAndGlyphs">строения</text></g>
<g class="rl" transform="translate(840,541) rotate(-90)"><text textLength="134" lengthAdjust="spacingAndGlyphs">Укладка рельсов</text><text y="13" textLength="128" lengthAdjust="spacingAndGlyphs">на новом пролет-</text><text y="26" textLength="86" lengthAdjust="spacingAndGlyphs">ном строении</text></g>
<g class="rl" transform="translate(924,536) rotate(-90)"><text textLength="102" lengthAdjust="spacingAndGlyphs">Сболчивание</text><text y="13" textLength="110" lengthAdjust="spacingAndGlyphs">стыков на но-</text><text y="26" textLength="116" lengthAdjust="spacingAndGlyphs">вом пролетном</text><text y="39" textLength="71" lengthAdjust="spacingAndGlyphs">строении</text></g>
<g class="rl" transform="translate(1068,540) rotate(-90)"><text textLength="85" lengthAdjust="spacingAndGlyphs">Рихтовка</text><text y="12" textLength="66" lengthAdjust="spacingAndGlyphs">пути на</text><text y="25" textLength="110" lengthAdjust="spacingAndGlyphs">новом пролет-</text><text y="38" textLength="112" lengthAdjust="spacingAndGlyphs">ном строении</text></g>
<g class="rl" transform="translate(1017,217) rotate(-90)"><text textLength="92" lengthAdjust="spacingAndGlyphs">Движение</text><text y="14" textLength="105" lengthAdjust="spacingAndGlyphs">платформ со</text><text y="28" textLength="102" lengthAdjust="spacingAndGlyphs">старым про-</text><text y="41" textLength="99" lengthAdjust="spacingAndGlyphs">летным стро-</text><text y="54" textLength="67" lengthAdjust="spacingAndGlyphs">ением на</text><text y="67" textLength="97" lengthAdjust="spacingAndGlyphs">станцию б</text></g>
<g class="rl" transform="translate(790,362) rotate(-90)"><text textLength="62" lengthAdjust="spacingAndGlyphs">Монтаж</text><text y="13" textLength="115" lengthAdjust="spacingAndGlyphs">кронштейнов</text><text y="26" textLength="72" lengthAdjust="spacingAndGlyphs">конт сети</text></g>
<g class="r13" transform="translate(901,364) rotate(-90)"><text textLength="86" lengthAdjust="spacingAndGlyphs">Подвеска</text><text y="13" textLength="92" lengthAdjust="spacingAndGlyphs">контак про</text><text y="25" textLength="96" lengthAdjust="spacingAndGlyphs">водов в эк-</text><text y="38" textLength="111" lengthAdjust="spacingAndGlyphs">плуатацион</text><text y="50" textLength="109" lengthAdjust="spacingAndGlyphs">ное положе-</text><text y="63" textLength="115" lengthAdjust="spacingAndGlyphs">ние на I путь</text></g>
<g class="r13" transform="translate(1188,364) rotate(-90)"><text textLength="88" lengthAdjust="spacingAndGlyphs">Переход</text><text y="12.5" textLength="109" lengthAdjust="spacingAndGlyphs">бригады кон-</text><text y="25" textLength="107" lengthAdjust="spacingAndGlyphs">тактников</text><text y="37.5" textLength="105" lengthAdjust="spacingAndGlyphs">контактной</text><text y="50" textLength="90" lengthAdjust="spacingAndGlyphs">сети на II</text><text y="62.5" textLength="40" lengthAdjust="spacingAndGlyphs">путь</text></g>
<g class="r13" transform="translate(828,754) rotate(-90)"><text textLength="146" lengthAdjust="spacingAndGlyphs">Снятие 2го проти-</text><text y="12" textLength="142" lengthAdjust="spacingAndGlyphs">вовеса с крана N1</text></g>
<g class="rl" transform="translate(904,740) rotate(-90)"><text textLength="125" lengthAdjust="spacingAndGlyphs">Снятие крана N1</text><text y="13" textLength="116" lengthAdjust="spacingAndGlyphs">с аутригеров</text></g>
<g class="rl" transform="translate(978,735) rotate(-90)"><text textLength="125" lengthAdjust="spacingAndGlyphs">Подход крана N1</text><text y="13" textLength="110" lengthAdjust="spacingAndGlyphs">к платформам</text></g>
<g class="rl" transform="translate(1057,733) rotate(-90)"><text textLength="123" lengthAdjust="spacingAndGlyphs">Установка крана</text><text y="12" textLength="121" lengthAdjust="spacingAndGlyphs">N1 на аутригеры</text></g>
<g class="r13" transform="translate(1131,734) rotate(-90)"><text textLength="124" lengthAdjust="spacingAndGlyphs">Подъем и установ-</text><text y="11" textLength="122" lengthAdjust="spacingAndGlyphs">ка на платформ</text><text y="22" textLength="74" lengthAdjust="spacingAndGlyphs">краном N1</text></g>
<g class="r13" transform="translate(1200,740) rotate(-90)"><text textLength="135" lengthAdjust="spacingAndGlyphs">Снятие 1го про-</text><text y="12" textLength="132" lengthAdjust="spacingAndGlyphs">тивовеса с кра-</text><text y="24" textLength="60" lengthAdjust="spacingAndGlyphs">на N1</text></g>
<g class="rl" transform="translate(1278,745) rotate(-90)"><text textLength="140" lengthAdjust="spacingAndGlyphs">Снятие крана N1 с</text><text y="12" textLength="105" lengthAdjust="spacingAndGlyphs">аутригеров</text></g>
<g class="r17" transform="translate(1368,746) rotate(-90)"><text textLength="146" lengthAdjust="spacingAndGlyphs">Движение крана N1</text><text y="24" textLength="172" lengthAdjust="spacingAndGlyphs">через мост. Соединение к хоз.</text><text y="46" textLength="101" lengthAdjust="spacingAndGlyphs">б. поезд</text></g>
<g class="rl" transform="translate(822,1005) rotate(-90)"><text textLength="191" lengthAdjust="spacingAndGlyphs">Снятие 2го противовеса</text><text y="12" textLength="82" lengthAdjust="spacingAndGlyphs">с крана N2</text></g>
<g class="rl" transform="translate(877,934) rotate(-90)"><text textLength="121" lengthAdjust="spacingAndGlyphs">Снятие крана N2</text><text y="12" textLength="98" lengthAdjust="spacingAndGlyphs">с аутригеров</text></g>
<g class="rl" transform="translate(952,916) rotate(-90)"><text textLength="108" lengthAdjust="spacingAndGlyphs">Подход крана N2</text><text y="13" textLength="104" lengthAdjust="spacingAndGlyphs">к платформам</text></g>
<g class="r13" transform="translate(1031,922) rotate(-90)"><text x="2" textLength="84" lengthAdjust="spacingAndGlyphs">Установка</text><text y="11" textLength="94" lengthAdjust="spacingAndGlyphs">крана N2 на</text><text y="22" textLength="84" lengthAdjust="spacingAndGlyphs">аутригеры</text></g>
<g class="r13" transform="translate(1113,924) rotate(-90)"><text x="4" textLength="110" lengthAdjust="spacingAndGlyphs">Подъем и уста-</text><text y="12" textLength="116" lengthAdjust="spacingAndGlyphs">новка на платформ</text><text y="24" textLength="64" lengthAdjust="spacingAndGlyphs">краном N2</text></g>
<g class="r13" transform="translate(1191,924) rotate(-90)"><text x="4" textLength="114" lengthAdjust="spacingAndGlyphs">Снятие 1го про</text><text y="13" textLength="91" lengthAdjust="spacingAndGlyphs">тивовеса с</text><text x="2" y="25" textLength="62" lengthAdjust="spacingAndGlyphs">крана N2</text></g>
<g class="r13" transform="translate(1266,918) rotate(-90)"><text x="1" textLength="72" lengthAdjust="spacingAndGlyphs">Снятие кра-</text><text y="13" textLength="103" lengthAdjust="spacingAndGlyphs">на N1 с аутри-</text><text x="2" y="25" textLength="42" lengthAdjust="spacingAndGlyphs">геров</text></g>
<g class="rl" transform="translate(232,903) rotate(-90)"><text textLength="185" lengthAdjust="spacingAndGlyphs">Навеска 2го противо-</text><text x="-2" y="14" textLength="153" lengthAdjust="spacingAndGlyphs">веса на кран N2</text></g>
</g>
</g>
</svg>
